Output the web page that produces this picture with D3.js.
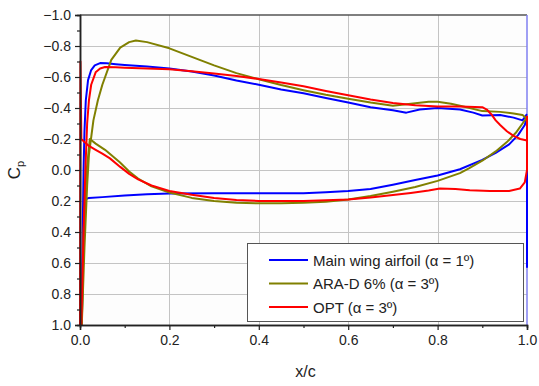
<!DOCTYPE html>
<html><head><meta charset="utf-8">
<script src="https://cdn.jsdelivr.net/npm/d3@7"></script>
<style>
html,body{margin:0;padding:0;background:#fff;}
svg{display:block;font-family:"Liberation Sans",Arial,sans-serif;}
</style></head>
<body><svg id="c" width="539" height="386"></svg>
<script>
// ---- data ----
const xTicks = [0.0, 0.2, 0.4, 0.6, 0.8, 1.0];
const xMinor = [0.1, 0.3, 0.5, 0.7, 0.9];
const yTicks = [-1.0, -0.8, -0.6, -0.4, -0.2, 0.0, 0.2, 0.4, 0.6, 0.8, 1.0];
const yMinor = [-0.9, -0.7, -0.5, -0.3, -0.1, 0.1, 0.3, 0.5, 0.7, 0.9];
const seriesNames = ["Main wing airfoil (\u03b1 = 1\u00ba)", "ARA-D 6% (\u03b1 = 3\u00ba)", "OPT (\u03b1 = 3\u00ba)"];
const seriesColors = ["#0000ff", "#808000", "#ff0000"];

const mainUpper = [[0.004,1.0],[0.006,0.4],[0.008,0.0],[0.010,-0.25],[0.013,-0.45],[0.018,-0.58],[0.025,-0.645],[0.033,-0.675],[0.045,-0.69],[0.06,-0.688],[0.08,-0.682],[0.1,-0.677],[0.15,-0.667],[0.2,-0.655],[0.25,-0.635],[0.3,-0.61],[0.35,-0.578],[0.4,-0.55],[0.45,-0.52],[0.5,-0.495],[0.55,-0.465],[0.6,-0.435],[0.65,-0.405],[0.7,-0.385],[0.73,-0.37],[0.76,-0.39],[0.8,-0.40],[0.85,-0.39],[0.88,-0.37],[0.9,-0.352],[0.94,-0.355],[0.97,-0.338],[0.99,-0.32],[1.0,-0.36]];
const mainLower = [[0.004,1.0],[0.007,0.5],[0.012,0.19],[0.02,0.18],[0.05,0.175],[0.1,0.165],[0.15,0.157],[0.2,0.152],[0.3,0.15],[0.4,0.15],[0.5,0.15],[0.55,0.143],[0.6,0.135],[0.65,0.122],[0.7,0.095],[0.75,0.065],[0.8,0.035],[0.85,-0.005],[0.9,-0.065],[0.93,-0.11],[0.96,-0.165],[0.98,-0.225],[0.995,-0.29],[1.0,-0.34],[1.0,0.63]];

const araUpper = [[0.004,1.0],[0.01,0.5],[0.016,0.1],[0.02,-0.1],[0.03,-0.32],[0.04,-0.45],[0.05,-0.55],[0.07,-0.71],[0.09,-0.79],[0.11,-0.825],[0.125,-0.835],[0.15,-0.825],[0.2,-0.785],[0.25,-0.73],[0.3,-0.675],[0.35,-0.625],[0.4,-0.585],[0.45,-0.548],[0.5,-0.515],[0.55,-0.485],[0.6,-0.46],[0.65,-0.435],[0.7,-0.415],[0.75,-0.43],[0.78,-0.44],[0.8,-0.44],[0.83,-0.428],[0.86,-0.408],[0.9,-0.38],[0.94,-0.375],[0.97,-0.365],[0.99,-0.355],[1.0,-0.33]];
const araLower = [[0.004,1.0],[0.008,0.4],[0.015,0.0],[0.022,-0.2],[0.035,-0.17],[0.056,-0.13],[0.089,-0.05],[0.11,0.01],[0.13,0.055],[0.16,0.105],[0.2,0.145],[0.25,0.18],[0.3,0.2],[0.35,0.212],[0.4,0.215],[0.45,0.215],[0.5,0.212],[0.55,0.205],[0.6,0.19],[0.65,0.168],[0.7,0.14],[0.75,0.11],[0.8,0.07],[0.85,0.02],[0.87,-0.01],[0.9,-0.06],[0.93,-0.12],[0.955,-0.18],[0.975,-0.24],[0.99,-0.3],[1.0,-0.34]];

const optUpper = [[0.003,1.0],[0.008,0.4],[0.012,0.0],[0.016,-0.3],[0.02,-0.45],[0.025,-0.55],[0.035,-0.63],[0.045,-0.655],[0.056,-0.665],[0.08,-0.663],[0.1,-0.66],[0.15,-0.655],[0.2,-0.65],[0.25,-0.637],[0.3,-0.622],[0.35,-0.607],[0.4,-0.587],[0.45,-0.565],[0.5,-0.54],[0.55,-0.51],[0.6,-0.482],[0.65,-0.455],[0.7,-0.432],[0.75,-0.418],[0.8,-0.41],[0.85,-0.41],[0.9,-0.405],[0.91,-0.39],[0.92,-0.36],[0.93,-0.32],[0.94,-0.29],[0.955,-0.25],[0.97,-0.22],[0.985,-0.2],[1.0,-0.19]];
const optLower = [[0.0,1.0],[0.001,-0.7],[0.003,-0.2],[0.01,-0.18],[0.02,-0.155],[0.035,-0.13],[0.05,-0.105],[0.067,-0.075],[0.09,-0.02],[0.11,0.025],[0.13,0.06],[0.16,0.1],[0.2,0.135],[0.25,0.16],[0.3,0.18],[0.35,0.193],[0.4,0.2],[0.45,0.2],[0.5,0.2],[0.55,0.195],[0.6,0.19],[0.65,0.178],[0.7,0.162],[0.74,0.148],[0.78,0.132],[0.805,0.12],[0.84,0.122],[0.872,0.13],[0.917,0.135],[0.96,0.135],[0.984,0.12],[0.995,0.08],[1.0,0.0],[1.0,-0.35]];

const seriesData = [[mainUpper, mainLower], [araUpper, araLower], [optUpper, optLower]];

// ---- chart ----
const svg = d3.select("#c");
const L = 80, R = 527, T = 15, B = 325;
const x = d3.scaleLinear().domain([0, 1]).range([L, R]);
const y = d3.scaleLinear().domain([-1, 1]).range([T, B]);
const fmt = d3.format(".1f");

svg.append("rect").attr("x", L).attr("y", T).attr("width", R - L).attr("height", B - T).attr("fill", "#fdfdfd");

// grid
const grid = svg.append("g").attr("stroke", "#c4c4c4").attr("stroke-width", 1);
grid.selectAll(".gx").data(xTicks.slice(1, -1)).join("line")
  .attr("x1", d => Math.round(x(d)) + 0.5).attr("x2", d => Math.round(x(d)) + 0.5).attr("y1", T).attr("y2", B);
grid.selectAll(".gy").data(yTicks.slice(1, -1)).join("line")
  .attr("y1", d => Math.round(y(d)) + 0.5).attr("y2", d => Math.round(y(d)) + 0.5).attr("x1", L).attr("x2", R);

// frame top/right
svg.append("line").attr("x1", L).attr("x2", R).attr("y1", T).attr("y2", T).attr("stroke", "#555").attr("stroke-width", 1.5);
svg.append("line").attr("x1", R).attr("x2", R).attr("y1", T).attr("y2", B).attr("stroke", "#7f7ff0").attr("stroke-width", 1.5);

// lines
const line = d3.line().x(d => x(d[0])).y(d => y(d[1]));
const plot = svg.append("g").attr("fill", "none").attr("stroke-width", 2).attr("stroke-linejoin", "round");
seriesData.forEach((parts, i) => {
  parts.forEach(p => {
    plot.append("path").datum(p).attr("d", line).attr("stroke", seriesColors[i]);
  });
});

// axes
function styleAxis(g) {
  g.select(".domain").attr("stroke", "#222").attr("stroke-width", 1.5);
  g.selectAll(".tick line").attr("stroke", "#222").attr("stroke-width", 1.2);
  g.selectAll("text").attr("fill", "#222").attr("font-size", "14px").attr("font-family", "'Liberation Sans', Arial, sans-serif");
}
const xAx = svg.append("g").attr("transform", `translate(0,${B})`)
  .call(d3.axisBottom(x).tickValues(xTicks).tickFormat(fmt).tickSize(5).tickPadding(5));
styleAxis(xAx);
const xAxm = svg.append("g").attr("transform", `translate(0,${B})`)
  .call(d3.axisBottom(x).tickValues(xMinor).tickFormat("").tickSize(3));
styleAxis(xAxm);
const yAx = svg.append("g").attr("transform", `translate(${L},0)`)
  .call(d3.axisLeft(y).tickValues(yTicks).tickFormat(fmt).tickSize(5).tickPadding(4));
styleAxis(yAx);
const yAxm = svg.append("g").attr("transform", `translate(${L},0)`)
  .call(d3.axisLeft(y).tickValues(yMinor).tickFormat("").tickSize(3));
styleAxis(yAxm);

// titles
svg.append("text").attr("x", (L + R) / 2 + 2).attr("y", 377).attr("text-anchor", "middle")
  .attr("font-size", "16px").attr("fill", "#222").text("x/c");
const yt = svg.append("text").attr("transform", `translate(20,${(T + B) / 2}) rotate(-90)`)
  .attr("text-anchor", "middle").attr("font-size", "17px").attr("fill", "#222");
yt.append("tspan").text("C");
yt.append("tspan").attr("font-size", "11px").attr("dy", "4").text("p");

// legend
const lg = svg.append("g");
lg.append("rect").attr("x", 247.5).attr("y", 243.5).attr("width", 276).attr("height", 78)
  .attr("fill", "#fff").attr("stroke", "#555").attr("stroke-width", 1);
seriesNames.forEach((n, i) => {
  const yy = 260 + i * 23.5;
  lg.append("line").attr("x1", 269).attr("x2", 308).attr("y1", yy).attr("y2", yy)
    .attr("stroke", seriesColors[i]).attr("stroke-width", 2);
  lg.append("text").attr("x", 313).attr("y", yy + 5.5).attr("font-size", "15px").attr("fill", "#222").text(n);
});
</script></body></html>
